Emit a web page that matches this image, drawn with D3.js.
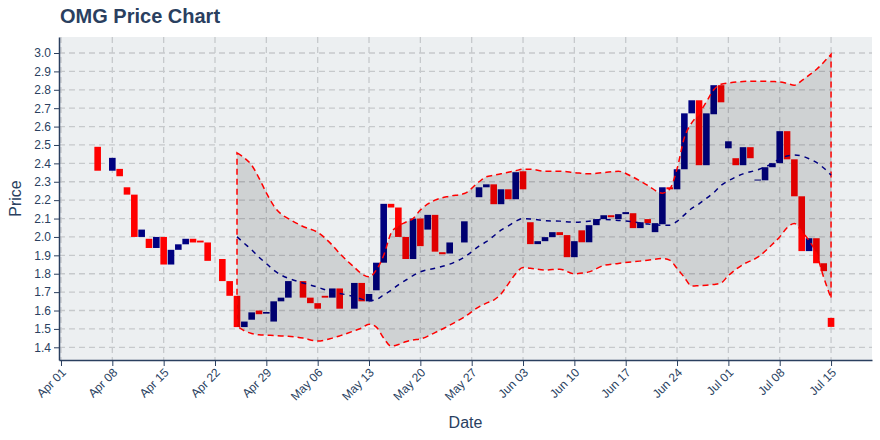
<!DOCTYPE html>
<html>
<head>
<meta charset="utf-8">
<script src="https://cdn.jsdelivr.net/npm/d3@7"></script>
<style>
body { margin: 0; background: #fff; }
text { font-family: "Liberation Sans", Arial, sans-serif; }
</style>
</head>
<body>
<svg id="chart" width="880" height="440"></svg>
<script>
// daily candles (no wicks shown in the picture)
const candleDates = ["2019-04-06","2019-04-08","2019-04-09","2019-04-10","2019-04-11","2019-04-12","2019-04-13","2019-04-14","2019-04-15","2019-04-16","2019-04-17","2019-04-18","2019-04-19","2019-04-20","2019-04-21","2019-04-23","2019-04-24","2019-04-25","2019-04-26","2019-04-27","2019-04-28","2019-04-29","2019-04-30",
  "2019-05-01","2019-05-02","2019-05-04","2019-05-05","2019-05-06","2019-05-07","2019-05-08","2019-05-09","2019-05-11","2019-05-12","2019-05-13","2019-05-14","2019-05-15","2019-05-16","2019-05-17","2019-05-18","2019-05-19","2019-05-20","2019-05-21","2019-05-22","2019-05-23","2019-05-24","2019-05-26","2019-05-28","2019-05-29","2019-05-30","2019-05-31",
  "2019-06-01","2019-06-02","2019-06-03","2019-06-04","2019-06-05","2019-06-06","2019-06-07","2019-06-08","2019-06-09","2019-06-10","2019-06-11","2019-06-12","2019-06-13","2019-06-14","2019-06-15","2019-06-16","2019-06-17","2019-06-18","2019-06-19","2019-06-20","2019-06-21","2019-06-22","2019-06-23","2019-06-24","2019-06-25","2019-06-26","2019-06-27","2019-06-28","2019-06-29","2019-06-30",
  "2019-07-01","2019-07-02","2019-07-03","2019-07-04","2019-07-05","2019-07-06","2019-07-07","2019-07-08","2019-07-09","2019-07-10","2019-07-11","2019-07-12","2019-07-13","2019-07-14","2019-07-15"];
const openPrice = [2.49,2.36,2.37,2.27,2.23,2.00,1.99,1.94,2.00,1.85,1.93,1.96,1.99,1.98,1.97,1.88,1.76,1.68,1.51,1.55,1.60,1.583,1.54,
  1.65,1.67,1.76,1.67,1.64,1.68,1.67,1.72,1.61,1.75,1.65,1.71,1.86,2.18,2.16,2.00,1.88,2.10,2.04,2.12,1.917,1.91,1.97,2.216,2.27,2.286,2.178,
  2.259,2.205,2.357,2.08,1.961,1.977,1.999,2.026,2.010,1.890,2.036,1.971,2.064,2.097,2.118,2.097,2.124,2.129,2.048,2.097,2.026,2.069,2.270,2.259,2.368,2.672,2.743,2.390,2.667,2.825,
  2.482,2.428,2.390,2.488,2.308,2.308,2.379,2.401,2.575,2.422,2.221,1.923,1.993,1.857,1.560];
const closePrice = [2.36,2.43,2.33,2.23,2.00,2.04,1.94,2.00,1.85,1.93,1.96,1.99,1.97,1.97,1.87,1.76,1.68,1.51,1.54,1.59,1.58,1.592,1.65,
  1.67,1.76,1.67,1.64,1.61,1.67,1.72,1.61,1.75,1.65,1.69,1.86,2.18,2.16,2.00,1.88,2.10,1.95,2.12,1.92,1.906,1.97,2.085,2.27,2.286,2.178,2.259,
  2.205,2.352,2.259,1.961,1.977,1.999,2.026,2.010,1.890,1.977,1.971,2.064,2.097,2.118,2.107,2.124,2.135,2.048,2.080,2.075,2.075,2.270,2.259,2.368,2.672,2.743,2.390,2.672,2.825,2.732,
  2.520,2.390,2.488,2.428,2.312,2.379,2.401,2.575,2.422,2.221,1.923,1.993,1.857,1.814,1.511];

// bollinger-style band
const bandDates = ["2019-04-25","2019-04-26","2019-04-27","2019-04-28","2019-04-29","2019-04-30","2019-05-01","2019-05-02","2019-05-04","2019-05-06","2019-05-08","2019-05-09","2019-05-11","2019-05-12","2019-05-13","2019-05-14","2019-05-15","2019-05-16","2019-05-17","2019-05-18","2019-05-19","2019-05-20","2019-05-22","2019-05-24","2019-05-26","2019-05-28","2019-05-29","2019-05-30","2019-05-31",
  "2019-06-01","2019-06-02","2019-06-03","2019-06-04","2019-06-06","2019-06-08","2019-06-10","2019-06-12","2019-06-14","2019-06-16","2019-06-18","2019-06-20","2019-06-22","2019-06-23","2019-06-24","2019-06-25","2019-06-26","2019-06-27","2019-06-28","2019-06-29","2019-06-30",
  "2019-07-01","2019-07-03","2019-07-05","2019-07-07","2019-07-08","2019-07-09","2019-07-10","2019-07-11","2019-07-12","2019-07-13","2019-07-14","2019-07-15"];
const upperBand = [2.457,2.43,2.39,2.32,2.24,2.17,2.125,2.10,2.057,2.025,1.955,1.91,1.835,1.80,1.783,1.82,1.90,2.02,2.06,2.08,2.10,2.146,2.20,2.222,2.236,2.30,2.327,2.335,2.343,
  2.352,2.36,2.368,2.368,2.357,2.357,2.35,2.343,2.35,2.357,2.325,2.28,2.238,2.26,2.37,2.54,2.62,2.67,2.735,2.80,2.83,
  2.837,2.845,2.847,2.845,2.843,2.835,2.825,2.85,2.88,2.91,2.95,2.993];
const middleBand = [2.001,1.965,1.93,1.89,1.855,1.82,1.793,1.775,1.75,1.727,1.70,1.693,1.675,1.662,1.653,1.66,1.685,1.71,1.74,1.765,1.79,1.81,1.83,1.852,1.89,1.95,1.974,2.005,2.037,
  2.06,2.085,2.10,2.098,2.088,2.086,2.08,2.085,2.095,2.09,2.082,2.07,2.064,2.064,2.085,2.12,2.155,2.18,2.21,2.24,2.28,
  2.305,2.343,2.365,2.40,2.425,2.44,2.445,2.44,2.425,2.405,2.375,2.336];
const lowerBand = [1.515,1.49,1.475,1.468,1.466,1.464,1.462,1.46,1.45,1.434,1.45,1.462,1.49,1.505,1.526,1.51,1.45,1.407,1.415,1.43,1.44,1.445,1.48,1.52,1.565,1.62,1.64,1.657,1.69,
  1.745,1.80,1.834,1.83,1.82,1.825,1.80,1.81,1.845,1.856,1.865,1.873,1.883,1.874,1.829,1.78,1.733,1.735,1.737,1.742,1.75,
  1.79,1.85,1.89,1.96,2.00,2.05,2.073,2.03,1.98,1.91,1.78,1.666];

const xTickDates = ["2019-04-01","2019-04-08","2019-04-15","2019-04-22","2019-04-29","2019-05-06","2019-05-13","2019-05-20","2019-05-27","2019-06-03","2019-06-10","2019-06-17","2019-06-24","2019-07-01","2019-07-08","2019-07-15"];
const yTicks = [1.4,1.5,1.6,1.7,1.8,1.9,2.0,2.1,2.2,2.3,2.4,2.5,2.6,2.7,2.8,2.9,3.0];

const parse = d3.utcParse("%Y-%m-%d");
const fmt = d3.utcFormat("%b %d");
const ink = "#2a3f5f";

const svg = d3.select("#chart");
const plotL = 59, plotR = 872, plotT = 37, plotB = 360;

const x = d3.scaleUtc()
    .domain([new Date(Date.UTC(2019,2,31,17,30)), new Date(Date.UTC(2019,6,20,14,0))])
    .range([plotL, plotR]);
const y = d3.scaleLinear().domain([1.331, 3.087]).range([plotB, plotT]);
const dayW = x(parse("2019-04-02")) - x(parse("2019-04-01"));

svg.append("rect")
    .attr("x", plotL).attr("y", plotT)
    .attr("width", plotR - plotL).attr("height", plotB - plotT)
    .attr("fill", "#eceff1");

// grid
const grid = svg.append("g")
    .attr("stroke", "#c6c9cc")
    .attr("stroke-width", 1.3)
    .attr("stroke-dasharray", "6,4");
grid.selectAll(".hg").data(yTicks).enter().append("line")
    .attr("x1", plotL).attr("x2", plotR)
    .attr("y1", d => y(d)).attr("y2", d => y(d));
grid.selectAll(".vg").data(xTickDates).enter().append("line")
    .attr("y1", plotT).attr("y2", plotB)
    .attr("x1", d => x(parse(d))).attr("x2", d => x(parse(d)));

// candles
const candles = candleDates.map((d, i) => ({date: parse(d), open: openPrice[i], close: closePrice[i]}));
const cw = dayW * 0.9;
svg.append("g").selectAll("rect").data(candles).enter().append("rect")
    .attr("x", d => x(d.date) - cw / 2)
    .attr("width", cw)
    .attr("y", d => y(Math.max(d.open, d.close)))
    .attr("height", d => Math.max(1, Math.abs(y(d.open) - y(d.close))))
    .attr("fill", d => d.close >= d.open ? "#000080" : "#ff0000");

// band
const band = bandDates.map((d, i) => ({date: parse(d), up: upperBand[i], mid: middleBand[i], low: lowerBand[i]}));
const area = d3.area()
    .x(d => x(d.date))
    .y0(d => y(d.low))
    .y1(d => y(d.up))
    .curve(d3.curveMonotoneX);
svg.append("path")
    .datum(band)
    .attr("d", area)
    .attr("fill", "rgba(0,0,0,0.12)")
    .attr("stroke", "#ff0000")
    .attr("stroke-width", 1.5)
    .attr("stroke-dasharray", "6,4");

const midLine = d3.line()
    .x(d => x(d.date))
    .y(d => y(d.mid))
    .curve(d3.curveMonotoneX);
svg.append("path")
    .datum(band)
    .attr("d", midLine)
    .attr("fill", "none")
    .attr("stroke", "#000080")
    .attr("stroke-width", 1.5)
    .attr("stroke-dasharray", "5,5");

// axes
const xAxis = svg.append("g")
    .attr("transform", `translate(0,${plotB})`)
    .call(d3.axisBottom(x).tickValues(xTickDates.map(parse)).tickFormat(fmt).tickSize(6).tickSizeOuter(0));
xAxis.selectAll("text")
    .attr("transform", "translate(-4,4) rotate(-45)")
    .style("text-anchor", "end")
    .attr("dy", "0.35em")
    .attr("font-size", "12px")
    .attr("fill", ink);

const yAxis = svg.append("g")
    .attr("transform", `translate(${plotL},0)`)
    .call(d3.axisLeft(y).tickValues(yTicks).tickFormat(d3.format(".1f")).tickSize(5).tickSizeOuter(0));
yAxis.selectAll("text").attr("font-size", "12px").attr("fill", ink);

[xAxis, yAxis].forEach(a => {
  a.select(".domain").attr("stroke", ink).attr("stroke-width", 1.5);
  a.selectAll(".tick line").attr("stroke", ink);
});

svg.append("text")
    .attr("x", 60).attr("y", 23)
    .attr("font-size", "20px")
    .attr("font-weight", "bold")
    .attr("fill", ink)
    .text("OMG Price Chart");

svg.append("text")
    .attr("x", (plotL + plotR) / 2).attr("y", 428)
    .attr("text-anchor", "middle")
    .attr("font-size", "16px")
    .attr("fill", ink)
    .text("Date");

svg.append("text")
    .attr("transform", `translate(21,${(plotT + plotB) / 2}) rotate(-90)`)
    .attr("text-anchor", "middle")
    .attr("font-size", "16px")
    .attr("fill", ink)
    .text("Price");
</script>
</body>
</html>
